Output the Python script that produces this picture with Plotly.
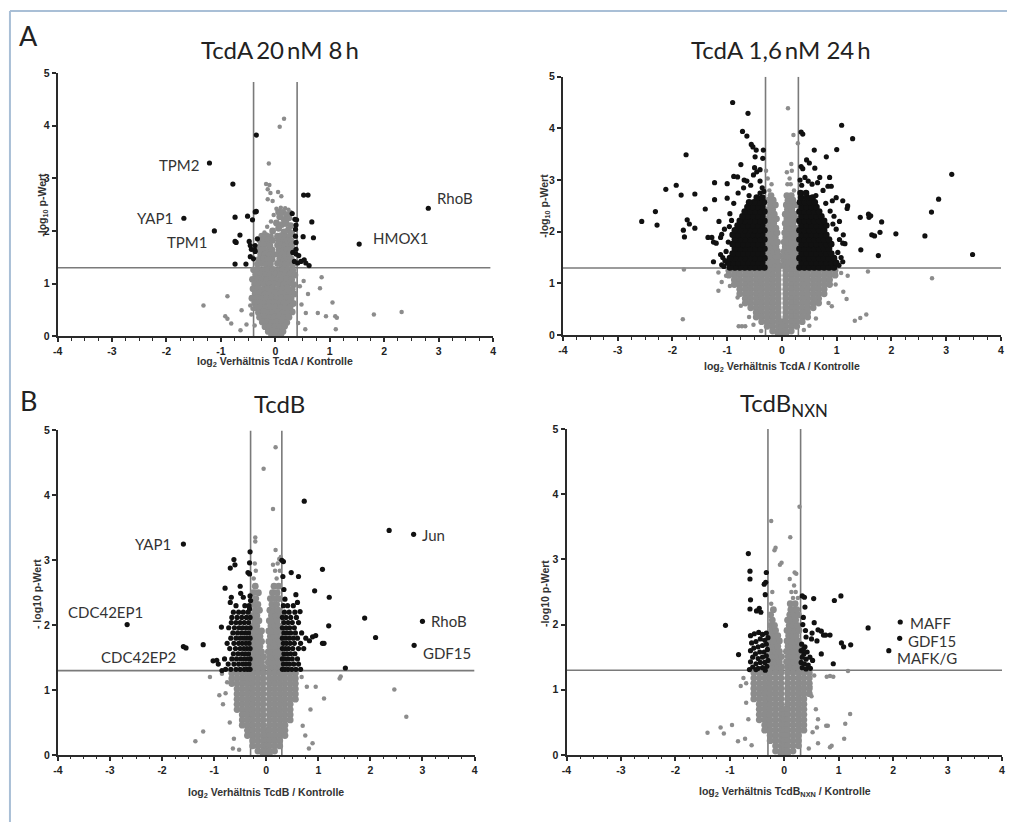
import plotly.graph_objects as go

# ---------------- data ----------------
x_ticks = [-4, -3, -2, -1, 0, 1, 2, 3, 4]
x_ticktext = ["-4", "-3", "-2", "-1", "0", "1", "2", "3", "4"]
y_ticks = [0, 1, 2, 3, 4, 5]
y_ticktext = ["0", "1", "2", "3", "4", "5"]

titles = ["TcdA\u200920\u2009nM 8\u2009h", "TcdA 1,6\u2009nM 24\u2009h", "TcdB", "TcdB<sub>NXN</sub>"]
x_titles = ["log<sub>2</sub> Verhältnis TcdA / Kontrolle",
            "log<sub>2</sub> Verhältnis TcdA / Kontrolle",
            "log<sub>2</sub> Verhältnis TcdB / Kontrolle",
            "log<sub>2</sub> Verhältnis TcdB<sub>NXN</sub> / Kontrolle"]
y_titles = ["-log<sub>10</sub> p-Wert", "-log<sub>10</sub> p-Wert", "- log10 p-Wert", "-log10 p-Wert"]

fc_thresholds = [0.4, 0.3, 0.3, 0.3]
p_threshold = 1.3

# gene labels: (name, x, y, side)
A1_labels = [("TPM2", -1.34, 3.26, "right"), ("YAP1", -1.84, 2.24, "right"), ("TPM1", -1.20, 1.78, "right"),
             ("RhoB", 2.93, 2.63, "left"), ("HMOX1", 1.76, 1.87, "left")]
A2_labels = []
B1_labels = [("YAP1", -1.79, 3.25, "right"), ("CDC42EP1", -2.32, 2.20, "right"), ("CDC42EP2", -1.70, 1.51, "right"),
             ("Jun", 2.95, 3.39, "left"), ("RhoB", 3.13, 2.07, "left"), ("GDF15", 2.97, 1.57, "left")]
B2_labels = [("MAFF", 2.27, 2.03, "left"), ("GDF15", 2.24, 1.75, "left"), ("MAFK/G", 2.04, 1.49, "left")]

# ---- A1: TcdA 20 nM 8 h ----
A1_sig = [(-0.35,3.82),(-1.21,3.29),(-0.78,2.89),(0.52,2.68),(0.60,2.68),(-0.37,2.36),(-0.35,2.37),(-1.68,2.24),
(-0.74,2.26),(-0.51,2.28),(-0.42,2.21),(0.31,2.33),(0.36,2.22),(0.39,2.21),(0.67,2.17),(-1.12,2.00),(-0.65,1.92),
(0.38,2.11),(0.37,2.03),(0.51,1.89),(0.70,1.87),(-0.74,1.80),(-0.72,1.78),(-0.46,1.72),(-0.37,1.72),(-0.33,1.85),
(-0.38,1.64),(-0.44,1.65),(0.38,1.78),(0.38,1.65),(-0.37,1.61),(-0.46,1.51),(-0.40,1.47),(-0.74,1.37),(-0.54,1.37),
(0.32,1.59),(0.38,1.56),(0.43,1.53),(0.35,1.42),(0.41,1.39),(0.47,1.42),(0.53,1.45),(0.56,1.39),(0.62,1.34),
(0.37,1.90),(2.81,2.43),(1.54,1.75),(-0.48,1.80)]
A1_sig_dense = []
A1_ns = [(0.16,4.13),(0.08,3.98),(-0.12,3.28),(-0.17,2.89),(-0.11,2.87),(-0.14,2.79),(-0.09,2.72),(0.05,2.74),
(0.11,2.66),(-0.14,2.60),(-0.05,2.57),(0.85,1.12),(0.82,0.91),(1.05,0.64),(1.81,0.41),(2.32,0.46),(0.78,0.44),
(0.93,0.38),(1.10,0.38),(1.13,0.35),(0.56,0.44),(0.55,0.13),(1.11,0.13),(-0.88,0.76),(-1.32,0.58),(-0.92,0.38),
(-0.88,0.33),(-0.81,0.24),(-0.64,0.11),(-0.62,0.49),(-0.46,0.58),(-0.42,0.52),(-0.44,0.41),(-0.53,0.22),(-0.38,0.20),
(0.48,0.60),(0.45,0.95),(0.52,1.05),(0.42,0.25),(0.60,0.80),
(0.02,2.42),(0.10,2.44),(0.18,2.43),(0.24,2.40),(0.28,2.36),(-0.03,2.30),(-0.08,2.18),(-0.15,2.08),(-0.20,1.97)]
A1_ns_dense = [(0.06,2.36),(0.14,2.35),(0.21,2.31),
(0.25,2.25),(0.08,2.27),(0.16,2.22),(0.02,2.15),(0.12,2.12),(0.20,2.14),(0.28,2.10),
(0.06,2.05),(0.24,2.02),(-0.05,2.00),(0.16,1.98),(0.30,1.95),
(-0.25,1.90),(-0.17,1.91),(-0.09,1.89),(0.04,1.90),(0.11,1.91),(0.19,1.89),(0.26,1.90),
(-0.28,1.82),(-0.21,1.81),(-0.13,1.83),(-0.05,1.82),(0.07,1.81),(0.15,1.83),(0.22,1.82),(0.29,1.81),
(-0.26,1.73),(-0.18,1.74),(-0.10,1.72),(0.04,1.73),(0.11,1.74),(0.18,1.72),(0.25,1.73),(0.31,1.74),
(-0.29,1.64),(-0.22,1.65),(-0.14,1.63),(-0.06,1.64),(0.07,1.65),(0.14,1.63),(0.21,1.64),(0.28,1.65),
(-0.27,1.55),(-0.19,1.56),(-0.11,1.54),(-0.03,1.55),(0.05,1.56),(0.12,1.54),(0.19,1.55),(0.26,1.56),
(-0.30,1.46),(-0.22,1.47),(-0.14,1.45),(-0.06,1.46),(0.08,1.47),(0.15,1.45),(0.22,1.46),(0.29,1.47),
(-0.33,1.37),(-0.25,1.38),(-0.17,1.36),(-0.09,1.37),(0.04,1.38),(0.11,1.36),(0.18,1.37),(0.25,1.38),(0.32,1.36),
(-0.40,1.26),(-0.31,1.27),(-0.22,1.25),(-0.13,1.26),(-0.04,1.27),(0.05,1.25),(0.14,1.26),(0.23,1.27),(0.32,1.25),
(-0.36,1.17),(-0.27,1.18),(-0.18,1.16),(-0.09,1.17),(0.00,1.18),(0.09,1.16),(0.18,1.17),(0.27,1.18),(0.36,1.16),
(-0.42,1.08),(-0.33,1.09),(-0.24,1.07),(-0.15,1.08),(-0.06,1.09),(0.03,1.07),(0.12,1.08),(0.21,1.09),(0.30,1.07),
(-0.38,0.99),(-0.29,1.00),(-0.20,0.98),(-0.11,0.99),(-0.02,1.00),(0.07,0.98),(0.16,0.99),(0.25,1.00),(0.34,0.98),
(-0.41,0.90),(-0.32,0.91),(-0.23,0.89),(-0.14,0.90),(-0.05,0.91),(0.04,0.89),(0.13,0.90),(0.22,0.91),(0.31,0.89),
(-0.37,0.81),(-0.28,0.82),(-0.19,0.80),(-0.10,0.81),(-0.01,0.82),(0.08,0.80),(0.17,0.81),(0.26,0.82),(0.35,0.80),
(-0.43,0.72),(-0.34,0.73),(-0.25,0.71),(-0.16,0.72),(-0.07,0.73),(0.02,0.71),(0.11,0.72),(0.20,0.73),(0.29,0.71),
(-0.38,0.63),(-0.29,0.64),(-0.20,0.62),(-0.11,0.63),(-0.02,0.64),(0.07,0.62),(0.16,0.63),(0.25,0.64),(0.33,0.62),
(-0.36,0.54),(-0.27,0.55),(-0.18,0.53),(-0.09,0.54),(0.00,0.55),(0.09,0.53),(0.18,0.54),(0.27,0.55),
(-0.31,0.45),(-0.22,0.46),(-0.13,0.44),(-0.04,0.45),(0.05,0.46),(0.14,0.44),(0.23,0.45),(0.31,0.46),
(-0.29,0.36),(-0.20,0.37),(-0.11,0.35),(-0.02,0.36),(0.07,0.37),(0.16,0.35),(0.25,0.36),
(-0.24,0.27),(-0.15,0.28),(-0.06,0.26),(0.03,0.27),(0.12,0.28),(0.21,0.26),
(-0.19,0.18),(-0.10,0.19),(-0.01,0.17),(0.08,0.18),(0.17,0.19),
(-0.13,0.09),(-0.04,0.10),(0.05,0.08),(0.14,0.09),(-0.07,0.02),(0.02,0.03),(0.10,0.02)]

# ---- A2: TcdA 1,6 nM 24 h ----
A2_sig = [(-0.90,4.50),(-0.62,4.29),(-0.72,3.94),(-0.64,3.85),(-0.56,3.69),(-0.53,3.64),(-0.47,3.58),(-0.34,3.58),
(-0.49,3.45),(-0.35,3.42),(-1.75,3.49),(-0.75,3.30),(-0.50,3.24),(-0.46,3.16),(-0.52,3.10),(-0.40,3.20),(-0.88,3.07),
(-0.81,3.06),(-0.69,3.00),(-0.64,2.98),(-0.40,2.98),(-0.36,2.85),(-0.33,2.78),(-2.12,2.82),(-1.93,2.90),(-1.59,2.73),
(-1.84,2.71),(-1.23,2.95),(-1.00,2.93),(-1.23,2.62),(-1.00,2.65),(-1.40,2.44),(-2.31,2.39),(-2.28,2.13),(-2.56,2.20),
(-1.73,2.23),(-1.69,2.15),(-1.80,2.03),(-1.78,1.90),(-1.59,2.07),(-1.35,1.89),(-1.28,1.89),(-1.25,1.80),(-1.12,1.89),
(-1.25,1.42),(-1.10,1.36),(-1.06,1.33),(-1.20,1.78),(-1.15,2.20),(-1.05,2.05),(-1.10,1.95),(-0.95,2.35),(-0.88,2.55),
(-0.80,2.75),(-0.70,2.85),(-0.60,2.70),(-0.57,2.90),(-0.45,2.65),(-0.40,2.75),(-1.02,1.62),(-1.08,1.50),(-0.98,1.80),
(-1.12,1.56),(-1.04,1.44),(-0.96,2.10),(-0.92,2.22),
(1.09,4.06),(1.29,3.80),(0.38,3.89),(0.35,3.93),(1.00,3.59),(0.59,3.58),(0.81,3.45),(0.45,3.39),(0.50,3.33),
(0.35,3.26),(0.38,3.22),(0.60,3.23),(3.10,3.11),(2.86,2.63),(2.73,2.38),(2.61,1.92),(3.48,1.56),(2.08,1.96),
(1.82,2.19),(1.59,2.28),(1.58,2.34),(1.62,2.31),(1.43,2.28),(1.64,1.94),(1.69,1.92),(1.79,1.99),(1.76,1.54),
(1.44,1.65),(1.19,2.45),(1.20,2.50),(1.11,2.60),(0.99,2.66),(0.87,3.05),(0.69,3.05),(0.90,2.88),(0.84,2.88),
(1.12,1.94),(1.11,1.78),(1.15,1.77),(1.11,1.42),(0.42,3.05),(0.48,2.98),(0.55,2.92),(0.65,2.95),(0.75,2.80),
(0.92,2.60),(1.05,2.20),(1.02,1.60),(1.08,1.50),(0.98,1.40),(1.05,1.85),(0.33,3.00),(0.36,2.90),(0.62,2.70),
(0.80,2.55),(0.95,2.30),(0.88,2.40),(1.04,1.35),(0.99,2.05),(0.93,2.15)]
A2_sig_dense = [
(-0.32,1.31),(-0.41,1.31),(-0.50,1.31),(-0.59,1.31),(-0.68,1.31),(-0.77,1.31),(-0.86,1.31),(-0.95,1.31),
(-0.36,1.40),(-0.45,1.40),(-0.54,1.40),(-0.63,1.40),(-0.72,1.40),(-0.81,1.40),(-0.90,1.40),(-0.99,1.40),
(-0.32,1.49),(-0.41,1.49),(-0.50,1.49),(-0.59,1.49),(-0.68,1.49),(-0.77,1.49),(-0.86,1.49),(-0.95,1.49),
(-0.36,1.58),(-0.45,1.58),(-0.54,1.58),(-0.63,1.58),(-0.72,1.58),(-0.81,1.58),(-0.90,1.58),
(-0.32,1.67),(-0.41,1.67),(-0.50,1.67),(-0.59,1.67),(-0.68,1.67),(-0.77,1.67),(-0.86,1.67),
(-0.36,1.76),(-0.45,1.76),(-0.54,1.76),(-0.63,1.76),(-0.72,1.76),(-0.81,1.76),(-0.90,1.76),
(-0.32,1.85),(-0.41,1.85),(-0.50,1.85),(-0.59,1.85),(-0.68,1.85),(-0.77,1.85),(-0.86,1.85),
(-0.36,1.94),(-0.45,1.94),(-0.54,1.94),(-0.63,1.94),(-0.72,1.94),(-0.81,1.94),(-0.90,1.94),
(-0.32,2.03),(-0.41,2.03),(-0.50,2.03),(-0.59,2.03),(-0.68,2.03),(-0.77,2.03),(-0.86,2.03),
(-0.36,2.12),(-0.45,2.12),(-0.54,2.12),(-0.63,2.12),(-0.72,2.12),(-0.81,2.12),
(-0.32,2.21),(-0.41,2.21),(-0.50,2.21),(-0.59,2.21),(-0.68,2.21),(-0.77,2.21),
(-0.36,2.30),(-0.45,2.30),(-0.54,2.30),(-0.63,2.30),(-0.72,2.30),
(-0.32,2.39),(-0.41,2.39),(-0.50,2.39),(-0.59,2.39),(-0.68,2.39),
(-0.36,2.48),(-0.45,2.48),(-0.54,2.48),(-0.63,2.48),
(-0.33,2.57),(-0.42,2.57),(-0.51,2.57),(-0.60,2.57),(-0.36,2.66),(-0.46,2.66),
(0.32,1.31),(0.41,1.31),(0.50,1.31),(0.59,1.31),(0.68,1.31),(0.77,1.31),(0.86,1.31),(0.95,1.31),
(0.36,1.40),(0.45,1.40),(0.54,1.40),(0.63,1.40),(0.72,1.40),(0.81,1.40),(0.90,1.40),(0.99,1.40),
(0.32,1.49),(0.41,1.49),(0.50,1.49),(0.59,1.49),(0.68,1.49),(0.77,1.49),(0.86,1.49),(0.95,1.49),
(0.36,1.58),(0.45,1.58),(0.54,1.58),(0.63,1.58),(0.72,1.58),(0.81,1.58),(0.90,1.58),
(0.32,1.67),(0.41,1.67),(0.50,1.67),(0.59,1.67),(0.68,1.67),(0.77,1.67),(0.86,1.67),
(0.36,1.76),(0.45,1.76),(0.54,1.76),(0.63,1.76),(0.72,1.76),(0.81,1.76),(0.90,1.76),
(0.32,1.85),(0.41,1.85),(0.50,1.85),(0.59,1.85),(0.68,1.85),(0.77,1.85),(0.86,1.85),
(0.36,1.94),(0.45,1.94),(0.54,1.94),(0.63,1.94),(0.72,1.94),(0.81,1.94),
(0.32,2.03),(0.41,2.03),(0.50,2.03),(0.59,2.03),(0.68,2.03),(0.77,2.03),
(0.36,2.12),(0.45,2.12),(0.54,2.12),(0.63,2.12),(0.72,2.12),(0.81,2.12),
(0.32,2.21),(0.41,2.21),(0.50,2.21),(0.59,2.21),(0.68,2.21),(0.77,2.21),
(0.36,2.30),(0.45,2.30),(0.54,2.30),(0.63,2.30),(0.72,2.30),
(0.32,2.39),(0.41,2.39),(0.50,2.39),(0.59,2.39),(0.68,2.39),
(0.36,2.48),(0.45,2.48),(0.54,2.48),(0.63,2.48),
(0.33,2.57),(0.42,2.57),(0.51,2.57),(0.60,2.57),(0.35,2.66),(0.46,2.66),(0.56,2.66),(0.34,2.75),(0.44,2.75)]
A2_ns = [(0.11,4.39),(0.21,3.87),(0.29,3.71),(0.17,3.31),(0.09,3.15),(0.18,3.18),(-0.29,3.18),(-1.81,0.31),
(-1.79,1.27),(-0.79,0.17),(-0.73,0.17),(-0.67,0.17),(1.33,0.28),(1.43,0.33),(1.54,0.40),(1.57,1.23),(2.74,1.10),
(-1.16,1.21),(-1.10,1.03),(-1.16,0.86),(1.12,0.84),(1.18,0.70),(-0.81,0.73),(-0.75,0.57),(0.85,0.62),(0.91,0.56),
(-1.02,1.15),(1.08,1.20),(1.20,1.15),(-0.95,0.95),(0.98,0.98),(-0.60,0.35),(0.62,0.32),(-0.52,0.20),(0.50,0.18),
(0.40,0.10),(-0.38,0.08),(-0.26,3.03),(0.14,3.03),(-0.19,2.92),(0.10,2.92),(0.16,2.92),(-0.23,2.80),(0.22,2.80)]
A2_ns_dense = [
(-0.27,1.35),(-0.19,1.35),(-0.11,1.35),(-0.04,1.35),(0.05,1.35),(0.12,1.35),(0.20,1.35),(0.27,1.35),
(-0.24,1.44),(-0.16,1.44),(-0.08,1.44),(0.04,1.44),(0.09,1.44),(0.17,1.44),(0.25,1.44),
(-0.27,1.53),(-0.19,1.53),(-0.11,1.53),(-0.04,1.53),(0.06,1.53),(0.13,1.53),(0.21,1.53),(0.28,1.53),
(-0.24,1.62),(-0.16,1.62),(-0.08,1.62),(0.04,1.62),(0.10,1.62),(0.17,1.62),(0.25,1.62),
(-0.27,1.71),(-0.19,1.71),(-0.11,1.71),(0.06,1.71),(0.13,1.71),(0.21,1.71),(0.28,1.71),
(-0.24,1.80),(-0.16,1.80),(-0.08,1.80),(0.04,1.80),(0.10,1.80),(0.18,1.80),(0.26,1.80),
(-0.27,1.89),(-0.19,1.89),(-0.12,1.89),(0.07,1.89),(0.14,1.89),(0.22,1.89),
(-0.24,1.98),(-0.16,1.98),(-0.09,1.98),(0.05,1.98),(0.11,1.98),(0.19,1.98),(0.27,1.98),
(-0.26,2.07),(-0.18,2.07),(-0.11,2.07),(0.08,2.07),(0.15,2.07),(0.24,2.07),
(-0.23,2.16),(-0.15,2.16),(0.06,2.16),(0.12,2.16),(0.20,2.16),
(-0.26,2.25),(-0.18,2.25),(-0.10,2.25),(0.09,2.25),(0.17,2.25),(0.26,2.25),
(-0.22,2.34),(-0.14,2.34),(0.06,2.34),(0.13,2.34),(0.22,2.34),
(-0.25,2.43),(-0.17,2.43),(0.10,2.43),(0.18,2.43),
(-0.21,2.52),(-0.12,2.52),(0.08,2.52),(0.15,2.52),(0.25,2.52),
(-0.24,2.61),(-0.16,2.61),(0.11,2.61),(0.20,2.61),(-0.20,2.70),(0.09,2.70),(0.17,2.70),
(-0.97,1.25),(-0.87,1.25),(-0.77,1.25),(-0.67,1.25),(-0.57,1.25),(-0.47,1.25),(-0.37,1.25),(-0.27,1.25),(-0.17,1.25),(-0.07,1.25),
(0.07,1.25),(0.17,1.25),(0.27,1.25),(0.37,1.25),(0.47,1.25),(0.57,1.25),(0.67,1.25),(0.77,1.25),(0.87,1.25),(0.97,1.25),
(-0.97,1.16),(-0.87,1.16),(-0.77,1.16),(-0.67,1.16),(-0.57,1.16),(-0.47,1.16),(-0.37,1.16),(-0.27,1.16),(-0.17,1.16),(-0.07,1.16),
(0.07,1.16),(0.17,1.16),(0.27,1.16),(0.37,1.16),(0.47,1.16),(0.57,1.16),(0.67,1.16),(0.77,1.16),(0.87,1.16),(0.97,1.16),
(-0.87,1.07),(-0.77,1.07),(-0.67,1.07),(-0.57,1.07),(-0.47,1.07),(-0.37,1.07),(-0.27,1.07),(-0.17,1.07),(-0.07,1.07),
(0.07,1.07),(0.17,1.07),(0.27,1.07),(0.37,1.07),(0.47,1.07),(0.57,1.07),(0.67,1.07),(0.77,1.07),(0.87,1.07),
(-0.87,0.98),(-0.77,0.98),(-0.67,0.98),(-0.57,0.98),(-0.47,0.98),(-0.37,0.98),(-0.27,0.98),(-0.17,0.98),(-0.07,0.98),
(0.07,0.98),(0.17,0.98),(0.27,0.98),(0.37,0.98),(0.47,0.98),(0.57,0.98),(0.67,0.98),(0.77,0.98),(0.87,0.98),
(-0.77,0.89),(-0.67,0.89),(-0.57,0.89),(-0.47,0.89),(-0.37,0.89),(-0.27,0.89),(-0.17,0.89),(-0.07,0.89),
(0.07,0.89),(0.17,0.89),(0.27,0.89),(0.37,0.89),(0.47,0.89),(0.57,0.89),(0.67,0.89),(0.77,0.89),
(-0.77,0.80),(-0.67,0.80),(-0.57,0.80),(-0.47,0.80),(-0.37,0.80),(-0.27,0.80),(-0.17,0.80),(-0.07,0.80),
(0.07,0.80),(0.17,0.80),(0.27,0.80),(0.37,0.80),(0.47,0.80),(0.57,0.80),(0.67,0.80),(0.77,0.80),
(-0.67,0.71),(-0.57,0.71),(-0.47,0.71),(-0.37,0.71),(-0.27,0.71),(-0.17,0.71),(-0.07,0.71),
(0.07,0.71),(0.17,0.71),(0.27,0.71),(0.37,0.71),(0.47,0.71),(0.57,0.71),(0.67,0.71),
(-0.67,0.62),(-0.57,0.62),(-0.47,0.62),(-0.37,0.62),(-0.27,0.62),(-0.17,0.62),(-0.07,0.62),
(0.07,0.62),(0.17,0.62),(0.27,0.62),(0.37,0.62),(0.47,0.62),(0.57,0.62),(0.67,0.62),
(-0.57,0.53),(-0.47,0.53),(-0.37,0.53),(-0.27,0.53),(-0.17,0.53),(-0.07,0.53),
(0.07,0.53),(0.17,0.53),(0.27,0.53),(0.37,0.53),(0.47,0.53),(0.57,0.53),
(-0.47,0.44),(-0.37,0.44),(-0.27,0.44),(-0.17,0.44),(-0.07,0.44),(0.07,0.44),(0.17,0.44),(0.27,0.44),(0.37,0.44),(0.47,0.44),
(-0.47,0.35),(-0.37,0.35),(-0.27,0.35),(-0.17,0.35),(-0.07,0.35),(0.07,0.35),(0.17,0.35),(0.27,0.35),(0.37,0.35),(0.47,0.35),
(-0.37,0.26),(-0.27,0.26),(-0.17,0.26),(-0.07,0.26),(0.00,0.26),(0.07,0.26),(0.17,0.26),(0.27,0.26),(0.37,0.26),
(-0.27,0.17),(-0.17,0.17),(-0.07,0.17),(0.00,0.17),(0.07,0.17),(0.17,0.17),(0.27,0.17),
(-0.17,0.08),(-0.07,0.08),(0.00,0.08),(0.07,0.08),(0.17,0.08),(-0.07,0.02),(0.00,0.02),(0.07,0.02)]

# ---- B1: TcdB ----
B1_sig = [(-1.59,3.25),(-2.67,2.01),(-1.59,1.67),(-1.54,1.65),(-1.21,1.70),(0.73,3.91),(2.36,3.46),(2.83,3.40),
(3.00,2.06),(2.84,1.69),(1.89,2.11),(2.10,1.81),(1.52,1.34),(1.08,2.86),(0.93,2.53),(1.21,2.43),(1.20,1.99),
(1.08,1.72),(1.11,1.72),(0.48,2.81),(0.62,2.75),(0.57,2.47),(0.60,2.35),(0.65,2.21),(0.89,1.82),(0.95,1.84),
(0.83,1.76),(0.30,3.00),(0.33,2.98),(0.32,2.75),(0.34,2.55),(0.36,2.40),
(-0.62,3.01),(-0.60,2.93),(-0.69,2.88),(-0.31,3.13),(-0.32,2.96),(-0.35,2.81),(-0.32,2.79),(-0.79,2.57),
(-0.50,2.60),(-0.49,2.49),(-0.44,2.43),(-0.67,2.43),(-0.69,2.35),(-0.31,2.45),(-0.30,2.38),(-0.32,2.25),
(-0.86,1.97),(-0.95,1.46),(-0.92,1.40),(-0.85,1.30),(-1.02,1.45),
(-0.31,1.32),(-0.36,1.32),(-0.42,1.32),(-0.50,1.32),(-0.58,1.32),(-0.68,1.32),(-0.78,1.32),
(-0.33,1.40),(-0.39,1.40),(-0.45,1.40),(-0.53,1.40),(-0.62,1.40),(-0.73,1.40),
(-0.31,1.48),(-0.36,1.48),(-0.42,1.48),(-0.49,1.48),(-0.57,1.48),(-0.66,1.48),(-0.80,1.48),
(-0.34,1.56),(-0.40,1.56),(-0.46,1.56),(-0.54,1.56),(-0.63,1.56),
(-0.31,1.64),(-0.37,1.64),(-0.43,1.64),(-0.50,1.64),(-0.59,1.64),(-0.70,1.64),
(-0.33,1.72),(-0.39,1.72),(-0.46,1.72),(-0.53,1.72),(-0.62,1.72),(-0.75,1.72),
(-0.31,1.80),(-0.37,1.80),(-0.43,1.80),(-0.50,1.80),(-0.58,1.80),(-0.68,1.80),
(-0.34,1.88),(-0.40,1.88),(-0.47,1.88),(-0.55,1.88),(-0.64,1.88),
(-0.31,1.96),(-0.38,1.96),(-0.45,1.96),(-0.52,1.96),(-0.61,1.96),(-0.72,1.96),
(-0.34,2.04),(-0.42,2.04),(-0.50,2.04),(-0.58,2.04),(-0.67,2.04),
(-0.31,2.12),(-0.38,2.12),(-0.47,2.12),(-0.56,2.12),(-0.66,2.12),
(-0.35,2.20),(-0.44,2.20),(-0.53,2.20),(-0.63,2.20),(-0.33,2.30),(-0.41,2.30),(-0.58,2.30),
(0.31,1.32),(0.36,1.32),(0.42,1.32),(0.49,1.32),(0.57,1.32),(0.66,1.32),
(0.33,1.40),(0.39,1.40),(0.45,1.40),(0.53,1.40),(0.62,1.40),
(0.31,1.48),(0.36,1.48),(0.42,1.48),(0.50,1.48),(0.60,1.48),
(0.34,1.56),(0.40,1.56),(0.47,1.56),(0.55,1.56),
(0.31,1.64),(0.37,1.64),(0.43,1.64),(0.51,1.64),(0.62,1.64),(0.72,1.64),
(0.33,1.72),(0.39,1.72),(0.46,1.72),(0.54,1.72),(0.66,1.72),
(0.31,1.80),(0.37,1.80),(0.44,1.80),(0.52,1.80),(0.60,1.80),(0.76,1.80),
(0.34,1.88),(0.40,1.88),(0.47,1.88),(0.56,1.88),(0.68,1.88),
(0.31,1.96),(0.38,1.96),(0.45,1.96),(0.54,1.96),
(0.34,2.04),(0.42,2.04),(0.50,2.04),(0.62,2.04),
(0.31,2.12),(0.38,2.12),(0.47,2.12),(0.58,2.12),
(0.35,2.20),(0.44,2.20),(0.55,2.20),(0.33,2.30),(0.41,2.30),(0.52,2.30)]
B1_sig_dense = []
B1_ns = [(0.18,4.74),(-0.05,4.41),(0.13,3.79),(0.18,3.16),(-0.21,3.35),(-0.21,3.29),(0.13,2.93),(0.25,3.02),
(0.28,3.05),(-1.08,1.20),(-1.21,0.36),(-1.36,0.21),(1.43,1.21),(1.41,1.18),(2.46,1.01),(2.69,0.59),(1.11,0.87),
(0.89,0.18),(0.82,0.10),(-0.64,0.10),(-0.52,0.08),(-0.83,0.78),(-0.78,0.95),(-0.75,1.12),(0.78,1.05),(0.85,0.70),
(0.70,0.45),(0.75,0.30),(-0.70,0.50),(-0.62,0.25),(-0.85,1.25),(0.68,1.20),(0.95,1.05),(-0.90,0.92),
(-0.24,2.72),(0.20,2.72),(-0.20,2.84),(0.17,2.84),(0.26,2.84),(-0.22,2.95),(0.22,2.95)]
B1_ns_dense = [
(-0.26,1.35),(-0.19,1.35),(-0.12,1.35),(-0.05,1.35),(0.06,1.35),(0.13,1.35),(0.20,1.35),(0.27,1.35),
(-0.23,1.43),(-0.16,1.43),(-0.09,1.43),(0.04,1.43),(0.10,1.43),(0.17,1.43),(0.24,1.43),
(-0.26,1.51),(-0.19,1.51),(-0.12,1.51),(-0.05,1.51),(0.07,1.51),(0.14,1.51),(0.21,1.51),(0.28,1.51),
(-0.23,1.59),(-0.16,1.59),(-0.09,1.59),(0.04,1.59),(0.11,1.59),(0.18,1.59),(0.25,1.59),
(-0.26,1.67),(-0.19,1.67),(-0.12,1.67),(0.07,1.67),(0.14,1.67),(0.21,1.67),(0.28,1.67),
(-0.23,1.75),(-0.16,1.75),(-0.09,1.75),(0.05,1.75),(0.11,1.75),(0.18,1.75),(0.25,1.75),
(-0.26,1.83),(-0.19,1.83),(-0.12,1.83),(0.08,1.83),(0.15,1.83),(0.22,1.83),
(-0.23,1.91),(-0.16,1.91),(-0.09,1.91),(0.05,1.91),(0.12,1.91),(0.19,1.91),(0.27,1.91),
(-0.25,1.99),(-0.18,1.99),(0.09,1.99),(0.16,1.99),(0.24,1.99),
(-0.22,2.07),(-0.14,2.07),(0.06,2.07),(0.13,2.07),(0.21,2.07),
(-0.25,2.15),(-0.18,2.15),(0.10,2.15),(0.18,2.15),(0.26,2.15),
(-0.21,2.23),(-0.13,2.23),(0.07,2.23),(0.15,2.23),(0.23,2.23),
(-0.24,2.32),(-0.16,2.32),(0.11,2.32),(0.20,2.32),(-0.20,2.41),(0.08,2.41),(0.16,2.41),(0.25,2.41),
(-0.25,2.50),(-0.15,2.50),(0.12,2.50),(0.21,2.50),(-0.21,2.60),(0.15,2.60),(0.24,2.60),
(-0.66,1.26),(-0.56,1.26),(-0.46,1.26),(-0.36,1.26),(-0.26,1.26),(-0.16,1.26),(-0.06,1.26),(0.06,1.26),(0.16,1.26),(0.26,1.26),(0.36,1.26),(0.46,1.26),(0.56,1.26),
(-0.66,1.18),(-0.56,1.18),(-0.46,1.18),(-0.36,1.18),(-0.26,1.18),(-0.16,1.18),(-0.06,1.18),(0.06,1.18),(0.16,1.18),(0.26,1.18),(0.36,1.18),(0.46,1.18),(0.56,1.18),
(-0.66,1.10),(-0.56,1.10),(-0.46,1.10),(-0.36,1.10),(-0.26,1.10),(-0.16,1.10),(-0.06,1.10),(0.06,1.10),(0.16,1.10),(0.26,1.10),(0.36,1.10),(0.46,1.10),(0.56,1.10),
(-0.56,1.02),(-0.46,1.02),(-0.36,1.02),(-0.26,1.02),(-0.16,1.02),(-0.06,1.02),(0.06,1.02),(0.16,1.02),(0.26,1.02),(0.36,1.02),(0.46,1.02),(0.56,1.02),
(-0.56,0.94),(-0.46,0.94),(-0.36,0.94),(-0.26,0.94),(-0.16,0.94),(-0.06,0.94),(0.06,0.94),(0.16,0.94),(0.26,0.94),(0.36,0.94),(0.46,0.94),(0.56,0.94),
(-0.56,0.86),(-0.46,0.86),(-0.36,0.86),(-0.26,0.86),(-0.16,0.86),(-0.06,0.86),(0.06,0.86),(0.16,0.86),(0.26,0.86),(0.36,0.86),(0.46,0.86),(0.56,0.86),
(-0.56,0.78),(-0.46,0.78),(-0.36,0.78),(-0.26,0.78),(-0.16,0.78),(-0.06,0.78),(0.06,0.78),(0.16,0.78),(0.26,0.78),(0.36,0.78),(0.46,0.78),
(-0.56,0.70),(-0.46,0.70),(-0.36,0.70),(-0.26,0.70),(-0.16,0.70),(-0.06,0.70),(0.06,0.70),(0.16,0.70),(0.26,0.70),(0.36,0.70),(0.46,0.70),
(-0.46,0.62),(-0.36,0.62),(-0.26,0.62),(-0.16,0.62),(-0.06,0.62),(0.06,0.62),(0.16,0.62),(0.26,0.62),(0.36,0.62),(0.46,0.62),
(-0.46,0.54),(-0.36,0.54),(-0.26,0.54),(-0.16,0.54),(-0.06,0.54),(0.06,0.54),(0.16,0.54),(0.26,0.54),(0.36,0.54),(0.46,0.54),
(-0.46,0.46),(-0.36,0.46),(-0.26,0.46),(-0.16,0.46),(-0.06,0.46),(0.06,0.46),(0.16,0.46),(0.26,0.46),(0.36,0.46),
(-0.36,0.38),(-0.26,0.38),(-0.16,0.38),(-0.06,0.38),(0.00,0.38),(0.06,0.38),(0.16,0.38),(0.26,0.38),(0.36,0.38),
(-0.36,0.30),(-0.26,0.30),(-0.16,0.30),(-0.06,0.30),(0.00,0.30),(0.06,0.30),(0.16,0.30),(0.26,0.30),(0.36,0.30),
(-0.26,0.22),(-0.16,0.22),(-0.06,0.22),(0.00,0.22),(0.06,0.22),(0.16,0.22),(0.26,0.22),
(-0.26,0.14),(-0.16,0.14),(-0.06,0.14),(0.00,0.14),(0.06,0.14),(0.16,0.14),(0.26,0.14),
(-0.16,0.06),(-0.06,0.06),(0.00,0.06),(0.06,0.06),(0.16,0.06),(-0.06,0.01),(0.00,0.01),(0.06,0.01)]

# ---- B2: TcdB NXN ----
B2_sig = [(2.13,2.04),(2.12,1.79),(1.92,1.60),(1.54,1.95),(1.04,2.44),(0.92,2.37),(1.05,1.72),(1.09,1.66),
(1.22,1.69),(0.90,1.40),(0.84,1.84),(-1.08,1.99),(-0.84,1.54),
(-0.66,3.09),(-0.63,2.82),(-0.63,2.70),(-0.33,2.80),(-0.34,2.65),(-0.37,2.62),(-0.35,2.46),(-0.62,2.38),
(-0.63,2.24),(-0.51,2.21),(-0.43,2.19),(-0.46,2.25),
(-0.62,1.83),(-0.55,1.86),(-0.47,1.88),(-0.40,1.85),(-0.33,1.87),(-0.30,1.80),(-0.36,1.76),(-0.44,1.78),
(-0.52,1.74),(-0.60,1.72),(-0.33,1.70),(-0.40,1.68),(-0.48,1.66),(-0.56,1.64),(-0.31,1.62),(-0.37,1.58),
(-0.45,1.58),(-0.62,1.60),(-0.53,1.55),(-0.33,1.52),(-0.40,1.50),(-0.48,1.48),(-0.58,1.50),(-0.30,1.45),
(-0.36,1.42),(-0.44,1.42),(-0.52,1.40),(-0.62,1.43),(-0.32,1.36),(-0.40,1.34),(-0.48,1.33),(-0.58,1.35),
(-0.35,1.30),(-0.64,1.31),(-0.52,1.31),
(0.33,2.44),(0.37,2.42),(0.54,2.40),(0.38,2.27),(0.35,2.11),(0.34,2.00),(0.39,1.91),(0.40,1.81),(0.51,1.87),
(0.55,2.03),(0.62,1.92),(0.68,1.90),(0.72,1.84),(0.76,1.84),(0.68,1.55),(0.60,1.75),(0.50,1.78),
(0.32,1.70),(0.38,1.66),(0.31,1.60),(0.36,1.55),(0.42,1.58),(0.33,1.50),(0.40,1.47),(0.47,1.50),(0.31,1.42),
(0.37,1.40),(0.44,1.38),(0.52,1.45),(0.33,1.34),(0.40,1.32),(0.48,1.33),(0.35,1.62)]
B2_sig_dense = []
B2_ns = [(0.28,3.81),(-0.24,3.59),(0.11,3.34),(-0.16,3.18),(-0.18,3.14),(-0.05,2.95),(-0.08,2.92),(0.19,2.80),
(0.22,2.78),(0.10,2.70),(-1.41,0.34),(-1.17,0.42),(-1.11,0.33),(-0.85,0.21),(-0.96,0.46),(-0.80,1.06),(1.17,1.29),
(1.21,0.63),(1.12,0.48),(1.10,0.25),(0.84,0.12),(0.87,0.14),(0.77,0.45),(0.80,0.45),(0.62,0.55),(0.60,0.42),
(0.78,1.20),(0.84,1.21),(0.90,1.20),(0.55,1.22),(0.50,0.90),(0.58,0.70),(-0.70,0.80),(-0.66,0.55),(-0.72,0.25),
(-0.60,0.15),(0.45,0.10),(0.62,0.18),(-0.75,1.18),(-0.70,1.10),(0.48,1.05),(0.52,0.35),
(0.16,2.41),(0.25,2.41),(-0.22,2.50),(0.13,2.50),(0.21,2.50),(0.18,2.60),(-0.24,2.32)]
B2_ns_dense = [
(-0.26,1.35),(-0.19,1.35),(-0.12,1.35),(-0.05,1.35),(0.06,1.35),(0.13,1.35),(0.20,1.35),(0.27,1.35),
(-0.23,1.43),(-0.16,1.43),(-0.09,1.43),(0.04,1.43),(0.10,1.43),(0.17,1.43),(0.24,1.43),
(-0.26,1.51),(-0.19,1.51),(-0.12,1.51),(-0.05,1.51),(0.07,1.51),(0.14,1.51),(0.21,1.51),(0.28,1.51),
(-0.23,1.59),(-0.16,1.59),(-0.09,1.59),(0.04,1.59),(0.11,1.59),(0.18,1.59),(0.25,1.59),
(-0.26,1.67),(-0.19,1.67),(-0.12,1.67),(0.07,1.67),(0.14,1.67),(0.21,1.67),(0.28,1.67),
(-0.23,1.75),(-0.16,1.75),(-0.09,1.75),(0.05,1.75),(0.11,1.75),(0.18,1.75),(0.25,1.75),
(-0.26,1.83),(-0.19,1.83),(-0.12,1.83),(0.08,1.83),(0.15,1.83),(0.22,1.83),
(-0.23,1.91),(-0.16,1.91),(0.05,1.91),(0.12,1.91),(0.19,1.91),(0.27,1.91),
(-0.25,1.99),(-0.18,1.99),(0.09,1.99),(0.16,1.99),(0.24,1.99),
(-0.22,2.07),(0.06,2.07),(0.13,2.07),(0.21,2.07),(-0.25,2.15),(0.10,2.15),(0.18,2.15),(0.26,2.15),
(-0.20,2.23),(0.12,2.23),(0.15,2.23),(0.23,2.23),(0.11,2.32),(0.20,2.32),
(-0.56,1.26),(-0.46,1.26),(-0.36,1.26),(-0.26,1.26),(-0.16,1.26),(-0.06,1.26),(0.06,1.26),(0.16,1.26),(0.26,1.26),(0.36,1.26),(0.46,1.26),
(-0.56,1.18),(-0.46,1.18),(-0.36,1.18),(-0.26,1.18),(-0.16,1.18),(-0.06,1.18),(0.06,1.18),(0.16,1.18),(0.26,1.18),(0.36,1.18),(0.46,1.18),
(-0.56,1.10),(-0.46,1.10),(-0.36,1.10),(-0.26,1.10),(-0.16,1.10),(-0.06,1.10),(0.06,1.10),(0.16,1.10),(0.26,1.10),(0.36,1.10),(0.46,1.10),
(-0.56,1.02),(-0.46,1.02),(-0.36,1.02),(-0.26,1.02),(-0.16,1.02),(-0.06,1.02),(0.06,1.02),(0.16,1.02),(0.26,1.02),(0.36,1.02),(0.46,1.02),
(-0.56,0.94),(-0.46,0.94),(-0.36,0.94),(-0.26,0.94),(-0.16,0.94),(-0.06,0.94),(0.06,0.94),(0.16,0.94),(0.26,0.94),(0.36,0.94),(0.46,0.94),
(-0.56,0.86),(-0.46,0.86),(-0.36,0.86),(-0.26,0.86),(-0.16,0.86),(-0.06,0.86),(0.06,0.86),(0.16,0.86),(0.26,0.86),(0.36,0.86),
(-0.46,0.78),(-0.36,0.78),(-0.26,0.78),(-0.16,0.78),(-0.06,0.78),(0.06,0.78),(0.16,0.78),(0.26,0.78),(0.36,0.78),
(-0.46,0.70),(-0.36,0.70),(-0.26,0.70),(-0.16,0.70),(-0.06,0.70),(0.00,0.70),(0.06,0.70),(0.16,0.70),(0.26,0.70),(0.36,0.70),
(-0.46,0.62),(-0.36,0.62),(-0.26,0.62),(-0.16,0.62),(-0.06,0.62),(0.00,0.62),(0.06,0.62),(0.16,0.62),(0.26,0.62),(0.36,0.62),
(-0.46,0.54),(-0.36,0.54),(-0.26,0.54),(-0.16,0.54),(-0.06,0.54),(0.00,0.54),(0.06,0.54),(0.16,0.54),(0.26,0.54),(0.36,0.54),
(-0.36,0.46),(-0.26,0.46),(-0.16,0.46),(-0.06,0.46),(0.00,0.46),(0.06,0.46),(0.16,0.46),(0.26,0.46),(0.36,0.46),
(-0.36,0.38),(-0.26,0.38),(-0.16,0.38),(-0.06,0.38),(0.00,0.38),(0.06,0.38),(0.16,0.38),(0.26,0.38),(0.36,0.38),
(-0.26,0.30),(-0.16,0.30),(-0.06,0.30),(0.00,0.30),(0.06,0.30),(0.16,0.30),(0.26,0.30),
(-0.26,0.22),(-0.16,0.22),(-0.06,0.22),(0.00,0.22),(0.06,0.22),(0.16,0.22),(0.26,0.22),
(-0.16,0.14),(-0.06,0.14),(0.00,0.14),(0.06,0.14),(0.16,0.14),(0.26,0.14),
(-0.16,0.06),(-0.06,0.06),(0.00,0.06),(0.06,0.06),(0.16,0.06),(-0.06,0.01),(0.00,0.01),(0.06,0.01)]

# ---------------- figure ----------------
W, H = 1010, 828
def fx(px): return px / W
def fy(py): return 1 - py / H

# plot areas in pixels: (x_left, x_right, y_top, y_bottom)
boxes = [(53, 492, 68, 335), (562.3, 1004, 71.7, 334), (53.3, 473.3, 430.7, 760), (566, 1005, 429.3, 760)]
vline_top = [4.83, 5.0, 5.0, 5.0]
hline_end = [3.95, 4.0, 4.0, 4.0]
title_pos = [(277, 44), (782, 44), (277, 403), (785, 404)]
xtitle_pos = [(272, 361), (783, 366), (263, 799), (786, 798)]
ytitle_pos = [(38, 202), (544, 203), (33, 597), (545, 596)]

panels = [(A1_ns, A1_ns_dense, A1_sig, A1_sig_dense, A1_labels),
          (A2_ns, A2_ns_dense, A2_sig, A2_sig_dense, A2_labels),
          (B1_ns, B1_ns_dense, B1_sig, B1_sig_dense, B1_labels),
          (B2_ns, B2_ns_dense, B2_sig, B2_sig_dense, B2_labels)]

GRAY = "#8c8c8c"
BLACK = "#111111"
AXC = "#2a2a2a"
TICKFONT = dict(family="Liberation Sans, Arial", size=10.5, color="#222222", weight="bold")

fig = go.Figure()
layout = dict(width=W, height=H, margin=dict(l=0, r=0, t=0, b=0, pad=0),
              paper_bgcolor="white", plot_bgcolor="white", showlegend=False)
shapes = []
annotations = []

def add_pts(pts, xa, ya, size, color):
    if pts:
        fig.add_trace(go.Scatter(x=[p[0] for p in pts], y=[p[1] for p in pts], mode="markers", xaxis=xa, yaxis=ya,
                                 marker=dict(size=size, color=color, line=dict(width=0)), hoverinfo="skip"))

for i, ((ns, ns_d, sig, sig_d, labels), box) in enumerate(zip(panels, boxes)):
    k = "" if i == 0 else str(i + 1)
    xa, ya = "x" + k, "y" + k
    xl, xr, yt, yb = box
    layout["xaxis" + k] = dict(domain=[fx(xl), fx(xr)], range=[-4, 4], anchor=ya, showgrid=False, zeroline=False,
                               showline=True, linewidth=2, linecolor=AXC, ticks="outside", ticklen=4, tickwidth=1.5,
                               tickcolor=AXC, tickmode="array", tickvals=x_ticks, ticktext=x_ticktext,
                               tickfont=TICKFONT, fixedrange=True,
                               minor=dict(tickmode="linear", tick0=0, dtick=0.25, ticks="outside", ticklen=2.5,
                                          tickwidth=1.2, tickcolor=AXC, showgrid=False))
    layout["yaxis" + k] = dict(domain=[fy(yb), fy(yt)], range=[0, 5], anchor=xa, showgrid=False, zeroline=False,
                               showline=True, linewidth=2, linecolor=AXC, ticks="outside", ticklen=4, tickwidth=1.5,
                               tickcolor=AXC, tickmode="array", tickvals=y_ticks, ticktext=y_ticktext,
                               tickfont=TICKFONT, fixedrange=True)
    add_pts(ns_d, xa, ya, 6.8, GRAY)
    add_pts(ns, xa, ya, 4.5, GRAY)
    add_pts(sig_d, xa, ya, 6.6, BLACK)
    add_pts(sig, xa, ya, 5.2, BLACK)
    t = fc_thresholds[i]
    for xv in (-t, t):
        shapes.append(dict(type="line", xref=xa, yref=ya, x0=xv, x1=xv, y0=0, y1=vline_top[i],
                           line=dict(color="#7a7a7a", width=1.6), layer="below"))
    shapes.append(dict(type="line", xref=xa, yref=ya, x0=-4, x1=hline_end[i], y0=p_threshold, y1=p_threshold,
                       line=dict(color="#7a7a7a", width=1.6), layer="below"))
    for name, lx, ly, side in labels:
        annotations.append(dict(text=name, x=lx, y=ly, xref=xa, yref=ya, showarrow=False, xanchor=side,
                                yanchor="middle", font=dict(family="Lato", size=15, color="#333333")))
    tx, ty = title_pos[i]
    annotations.append(dict(text=titles[i], x=fx(tx), y=fy(ty), xref="paper", yref="paper", showarrow=False,
                            xanchor="center", yanchor="middle", font=dict(family="Lato", size=24, color="#222222")))
    ax_, ay_ = xtitle_pos[i]
    annotations.append(dict(text=x_titles[i], x=fx(ax_), y=fy(ay_), xref="paper", yref="paper", showarrow=False,
                            xanchor="center", yanchor="middle",
                            font=dict(family="Liberation Sans, Arial", size=10.5, color="#333333", weight="bold")))
    bx, by = ytitle_pos[i]
    annotations.append(dict(text=y_titles[i], x=fx(bx), y=fy(by), xref="paper", yref="paper", showarrow=False,
                            xanchor="center", yanchor="middle", textangle=-90,
                            font=dict(family="Liberation Sans, Arial", size=10.5, color="#333333", weight="bold")))

for letter, (lx, ly) in [("A", (24, 30)), ("B", (24, 400))]:
    annotations.append(dict(text=letter, x=fx(lx), y=fy(ly), xref="paper", yref="paper", showarrow=False,
                            xanchor="center", yanchor="middle", font=dict(family="Lato", size=27, color="#222222")))

# thin light-blue frame (top and left edges)
shapes.append(dict(type="line", xref="paper", yref="paper", x0=fx(5), x1=1, y0=fy(5), y1=fy(5),
                   line=dict(color="#a9bfd6", width=2)))
shapes.append(dict(type="line", xref="paper", yref="paper", x0=fx(5), x1=fx(5), y0=fy(5), y1=0,
                   line=dict(color="#a9bfd6", width=2)))

layout["shapes"] = shapes
layout["annotations"] = annotations
fig.update_layout(**layout)

fig.write_html("out.html", config={"displayModeBar": False},
               post_script="document.body.style.margin='0px';document.body.style.overflow='hidden';")
